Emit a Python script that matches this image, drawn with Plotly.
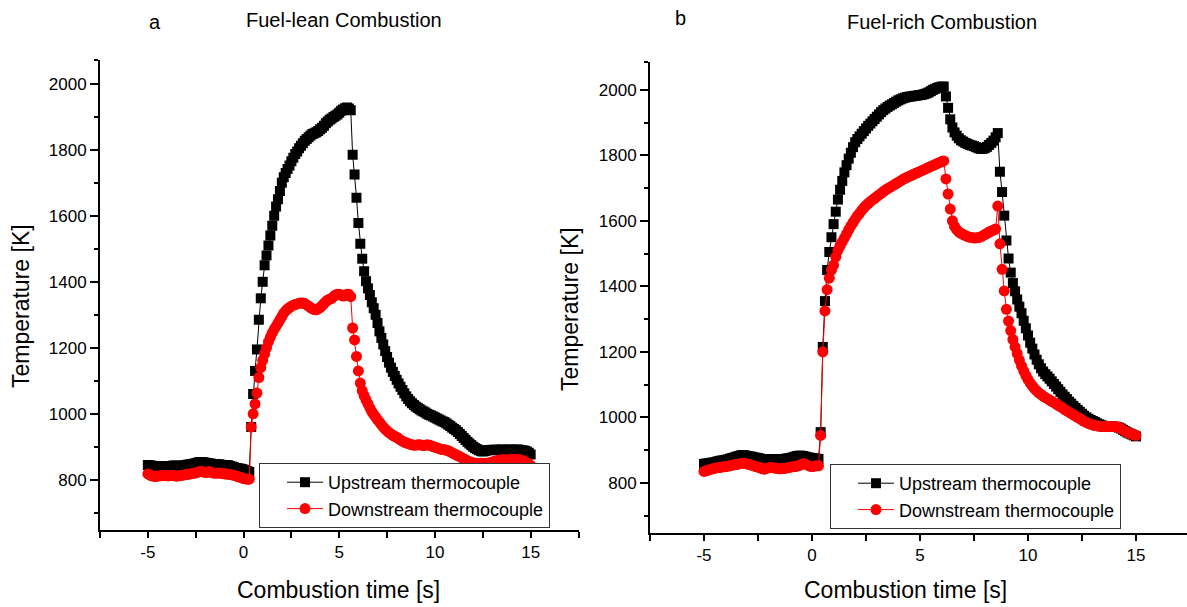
import plotly.graph_objects as go

# ---------------- data (time grid: -5.0 ... 15.0 s, step 0.1 s) ----------------
time_s = [round(-5 + 0.1 * i, 1) for i in range(201)]

lean_up = [
    845, 844, 843, 842, 842, 842, 841, 841, 840, 840,
    840, 841, 842, 843, 843, 843, 842, 842, 843, 844,
    845, 846, 847, 848, 849, 850, 852, 854, 854, 853,
    852, 851, 850, 849, 848, 848, 847, 847, 846, 845,
    845, 845, 844, 842, 840, 838, 836, 835, 834, 833,
    831, 829, 826, 824, 960, 1060, 1130, 1195, 1285, 1350,
    1400, 1450, 1480, 1510, 1540, 1570, 1600, 1628, 1650, 1675,
    1700, 1717, 1730, 1742, 1752, 1765, 1776, 1787, 1795, 1805,
    1812, 1820, 1827, 1833, 1838, 1843, 1848, 1850, 1853, 1857,
    1862, 1867, 1873, 1880, 1886, 1891, 1895, 1899, 1903, 1907,
    1912, 1918, 1922, 1926, 1928, 1925, 1920, 1785, 1725, 1655,
    1578, 1515, 1470, 1432, 1402, 1380, 1360, 1338, 1320, 1300,
    1275, 1250, 1230, 1210, 1190, 1172, 1155, 1140, 1127, 1115,
    1103, 1092, 1082, 1072, 1062, 1053, 1045, 1038, 1032, 1027,
    1022, 1018, 1014, 1010, 1007, 1004, 1000, 997, 995, 992,
    989, 986, 983, 980, 977, 975, 971, 967, 963, 958,
    954, 950, 945, 939, 933, 927, 921, 915, 910, 905,
    900, 896, 893, 890, 887, 886, 887, 889, 890, 890,
    891, 891, 891, 890, 891, 892, 891, 890, 891, 892,
    891, 890, 891, 892, 891, 890, 889, 888, 886, 882,
    877,
]

lean_down = [
    818, 815, 812, 811, 810, 811, 812, 812, 813, 813,
    812, 812, 813, 813, 812, 811, 812, 813, 814, 815,
    816, 817, 818, 819, 820, 821, 823, 825, 826, 824,
    822, 823, 825, 823, 821, 820, 820, 821, 820, 819,
    818, 818, 817, 816, 815, 814, 812, 810, 808, 806,
    804, 803, 802, 802, 960, 1000, 1030, 1063, 1110, 1140,
    1162, 1182, 1200, 1218, 1232, 1245, 1256, 1265, 1275, 1285,
    1295, 1305, 1312, 1318, 1322, 1326, 1329, 1331, 1333, 1335,
    1336, 1336, 1334, 1330, 1326, 1322, 1318, 1316, 1315, 1318,
    1322, 1328, 1334, 1340, 1345, 1347, 1350, 1355, 1360, 1362,
    1362, 1360, 1357, 1358, 1362, 1362, 1355, 1260, 1224, 1174,
    1130, 1093, 1070, 1055, 1042, 1030, 1018, 1007, 998, 990,
    982, 975, 967, 960, 954, 948, 943, 939, 935, 932,
    929, 925, 921, 917, 914, 912, 910, 908, 906, 905,
    905, 906, 906, 905, 904, 905, 906, 905, 903, 901,
    899, 897, 895, 893, 892, 891, 890, 888, 885, 882,
    879, 876, 873, 870, 867, 864, 861, 858, 855, 853,
    851, 850, 849, 849, 850, 850, 849, 850, 851, 852,
    854, 856, 858, 859, 860, 861, 861, 861, 860, 861,
    862, 862, 861, 861, 861, 860, 858, 855, 852, 848,
    844,
]

rich_up = [
    858, 859, 860, 861, 862, 863, 865, 867, 868, 869,
    870, 872, 874, 876, 878, 880, 882, 884, 885, 884,
    882, 881, 880, 878, 877, 876, 874, 872, 871, 871,
    872, 872, 873, 872, 871, 871, 872, 873, 874, 875,
    876, 878, 880, 882, 883, 883, 882, 880, 878, 877,
    876, 875, 874, 873, 955, 1215, 1355, 1450, 1505, 1550,
    1590, 1628, 1665, 1695, 1722, 1748, 1770, 1790, 1808, 1825,
    1840, 1850, 1858, 1866, 1874, 1882, 1890, 1897, 1904, 1911,
    1918, 1925, 1932, 1938, 1943, 1948, 1952, 1956, 1960, 1964,
    1968, 1971, 1974, 1976, 1978, 1979, 1980, 1981, 1982, 1983,
    1984, 1985, 1987, 1989, 1992, 1996, 2000, 2003, 2006, 2008,
    2010, 2010, 1980, 1945, 1910, 1885, 1870, 1860, 1852, 1846,
    1842, 1838, 1835, 1832, 1830, 1828, 1825, 1822, 1820, 1820,
    1822, 1826, 1832, 1838, 1845, 1855, 1868, 1750, 1688, 1616,
    1540, 1485, 1442, 1410, 1385, 1360, 1338, 1318, 1295, 1272,
    1250, 1228, 1210, 1192, 1176, 1162, 1150, 1140, 1132, 1125,
    1118, 1110, 1102, 1094, 1086, 1078, 1070, 1063, 1056, 1048,
    1042, 1035, 1029, 1023, 1017, 1011, 1005, 1000, 996, 992,
    989, 986, 982, 979, 976, 974, 972, 971, 971, 971,
    972, 971, 969, 966, 962, 958, 954, 951, 948, 945,
    942,
]

rich_down = [
    835, 837, 839, 841, 843, 845, 846, 847, 848, 849,
    850, 851, 852, 854, 855, 856, 858, 859, 860, 860,
    858, 856, 854, 852, 850, 848, 846, 843, 842, 844,
    846, 847, 846, 845, 844, 843, 843, 844, 845, 847,
    848, 849, 850, 851, 853, 856, 859, 857, 854, 851,
    850, 851, 852, 852, 945, 1200, 1325, 1390, 1425, 1450,
    1465, 1490, 1510, 1524, 1536, 1548, 1560, 1573, 1585, 1595,
    1605, 1615, 1623, 1632, 1640, 1647, 1653, 1659, 1664, 1669,
    1674, 1679, 1684, 1689, 1694, 1698, 1702, 1706, 1710, 1714,
    1718, 1722, 1726, 1730, 1733, 1736, 1739, 1742, 1745, 1748,
    1751, 1754, 1757, 1760, 1763, 1766, 1769, 1772, 1775, 1778,
    1781, 1783, 1728, 1682, 1636, 1600, 1583, 1573, 1566, 1562,
    1558, 1555, 1552, 1550, 1549, 1548, 1548, 1549, 1551, 1554,
    1558, 1562, 1566, 1569, 1572, 1575, 1645, 1530, 1452, 1386,
    1330, 1294, 1265, 1238, 1215, 1195, 1175, 1157, 1142, 1128,
    1116, 1105, 1096, 1088, 1081, 1075, 1070, 1065, 1061, 1057,
    1053, 1049, 1045, 1041, 1037, 1033, 1029, 1024, 1020, 1016,
    1012, 1008, 1004, 1000, 996, 992, 988, 985, 982, 979,
    977, 975, 974, 973, 972, 972, 972, 972, 972, 972,
    972, 971, 969, 966, 962, 958, 954, 951, 949, 947,
    945,
]

x_tickvals = [-7.5, -5, -2.5, 0, 2.5, 5, 7.5, 10, 12.5, 15, 17.5]
x_ticktext = ["", "-5", "", "0", "", "5", "", "10", "", "15", ""]
y_tickvals = [800, 1000, 1200, 1400, 1600, 1800, 2000]
y_ticktext = ["800", "1000", "1200", "1400", "1600", "1800", "2000"]
y_minorvals_a = [700, 900, 1100, 1300, 1500, 1700, 1900, 2072]
y_minorvals_b = [700, 900, 1100, 1300, 1500, 1700, 1900, 2085]

series_names = ["Upstream thermocouple", "Downstream thermocouple"]
panel_titles = ["Fuel-lean Combustion", "Fuel-rich Combustion"]
panel_letters = ["a", "b"]
x_title = "Combustion time [s]"
y_title = "Temperature [K]"

# ---------------- figure ----------------
W, H = 1187, 607
FONT = "Liberation Sans, Arial, sans-serif"

def px(x):
    return x / W

def py(y):
    return 1 - y / H

fig = go.Figure()

panels = [
    (lean_up, lean_down, "x", "y", "legend"),
    (rich_up, rich_down, "x2", "y2", "legend2"),
]
for up, down, xa, ya, lg in panels:
    fig.add_trace(go.Scatter(
        x=time_s, y=up, mode="lines+markers", name=series_names[0],
        xaxis=xa, yaxis=ya, legend=lg,
        line=dict(color="black", width=1),
        marker=dict(symbol="square", size=10, color="black", line=dict(width=0)),
    ))
    fig.add_trace(go.Scatter(
        x=time_s, y=down, mode="lines+markers", name=series_names[1],
        xaxis=xa, yaxis=ya, legend=lg,
        line=dict(color="red", width=1),
        marker=dict(symbol="circle", size=11, color="red", line=dict(width=0)),
    ))

axis_common = dict(
    showgrid=False, zeroline=False, showline=True, linecolor="black", linewidth=2,
    ticks="outside", tickcolor="black", tickwidth=1.5,
    tickfont=dict(family=FONT, size=17, color="black"),
)

def minor(vals):
    return dict(tickvals=vals, ticklen=4, ticks="outside", tickcolor="black", tickwidth=1.5)

legend_common = dict(
    xanchor="left", yanchor="top", bgcolor="white", bordercolor="#333333",
    borderwidth=1, font=dict(family=FONT, size=18, color="black"),
    tracegroupgap=0, itemwidth=36, indentation=22,
)

fig.update_layout(
    width=W, height=H,
    margin=dict(l=0, r=0, t=0, b=0),
    paper_bgcolor="white", plot_bgcolor="white",
    xaxis=dict(domain=[px(100), px(578.5)], range=[-7.5, 17.5], anchor="y",
               tickmode="array", tickvals=x_tickvals, ticktext=x_ticktext,
               ticklen=6, **axis_common),
    yaxis=dict(domain=[py(530), py(60)], range=[648, 2072], anchor="x",
               tickmode="array", tickvals=y_tickvals, ticktext=y_ticktext,
               ticklen=8, minor=minor(y_minorvals_a), **axis_common),
    xaxis2=dict(domain=[px(650), 1.0], range=[-7.5, -7.5 + 537 / 21.6], anchor="y2",
                tickmode="array", tickvals=x_tickvals, ticktext=x_ticktext,
                ticklen=6, **axis_common),
    yaxis2=dict(domain=[py(533), py(62)], range=[647, 2085], anchor="x2",
                tickmode="array", tickvals=y_tickvals, ticktext=y_ticktext,
                ticklen=8, minor=minor(y_minorvals_b), **axis_common),
    legend=dict(x=px(259), y=py(463), **legend_common),
    legend2=dict(x=px(830), y=py(464), **legend_common),
    showlegend=True,
)

annots = [
    (panel_letters[0], 155, 22, 20, 0),
    (panel_titles[0], 344, 20, 20, 0),
    (panel_letters[1], 680, 18, 20, 0),
    (panel_titles[1], 942, 22, 20, 0),
    (x_title, 338, 590, 23, 0),
    (x_title, 905, 590, 23, 0),
    (y_title, 21, 306, 23, -90),
    (y_title, 570, 309, 23, -90),
]
for text, x, y, size, ang in annots:
    fig.add_annotation(text=text, x=px(x), y=py(y), xref="paper", yref="paper",
                       xanchor="center", yanchor="middle", showarrow=False,
                       textangle=ang, font=dict(family=FONT, size=size, color="black"))

fig.write_html("out.html")
